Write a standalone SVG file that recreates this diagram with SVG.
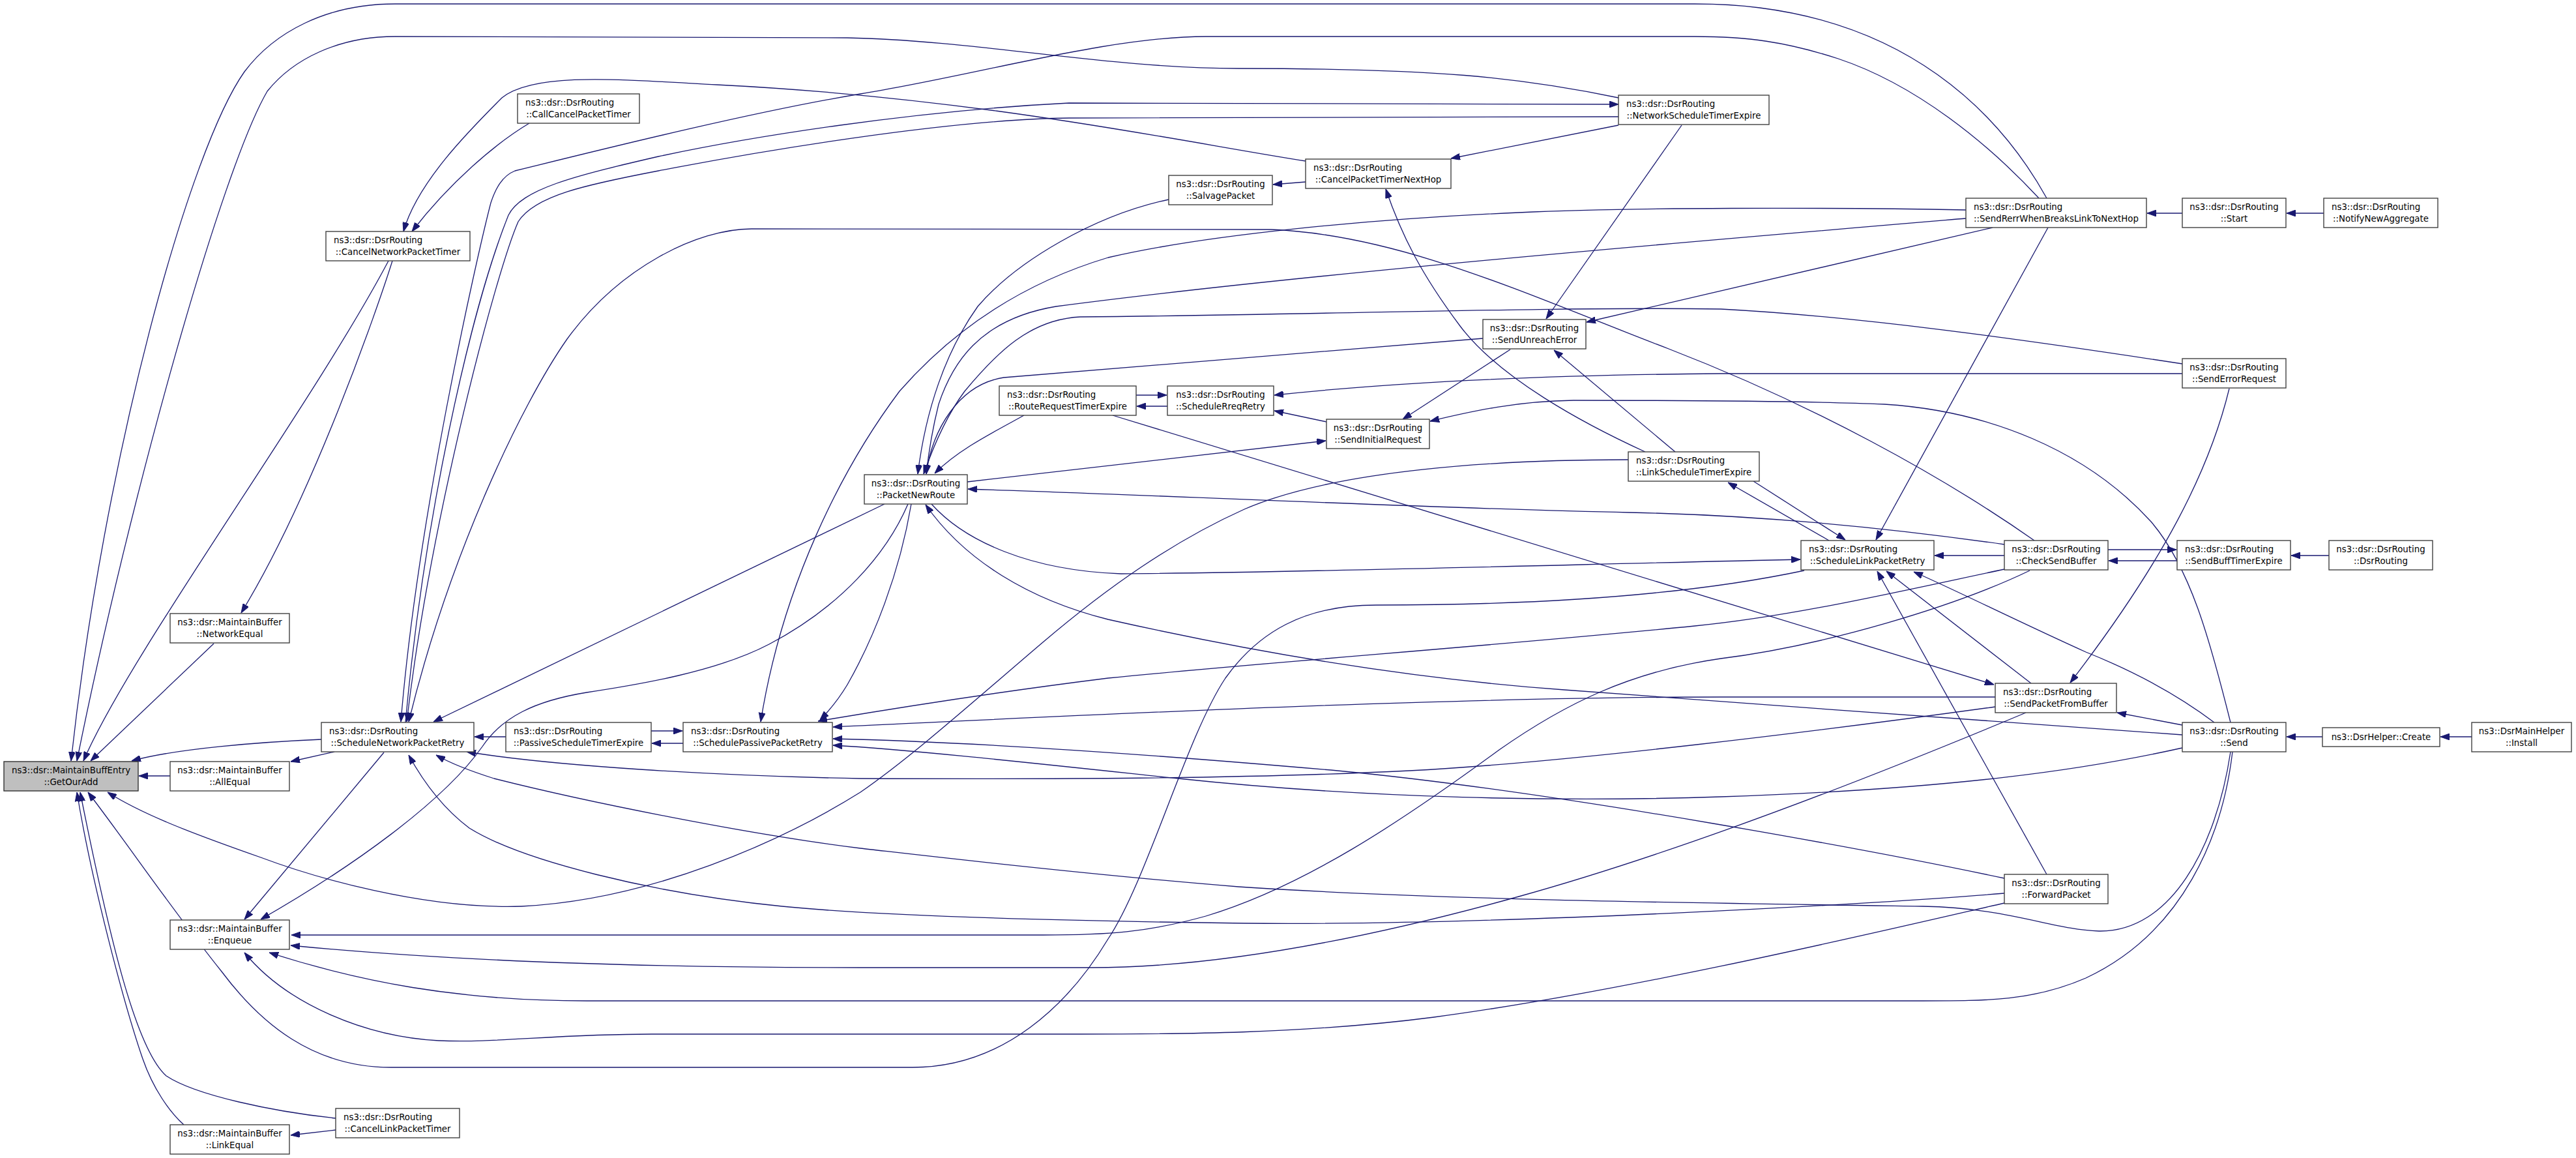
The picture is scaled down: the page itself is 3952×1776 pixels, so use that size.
<svg xmlns="http://www.w3.org/2000/svg" width="3952" height="1776" viewBox="0 0 3952 1776">
<defs>
<marker id="a" viewBox="0 0 14 10" refX="14" refY="5" markerWidth="14" markerHeight="10" markerUnits="userSpaceOnUse" orient="auto">
<path d="M0,0 L14,5 L0,10 z" fill="#191970" stroke="#191970" stroke-width="1"/>
</marker>
</defs>
<style>
.e path{fill:none;stroke:#191970;stroke-width:1.3;marker-end:url(#a)}
.n rect{fill:#ffffff;stroke:#404040;stroke-width:1.4}
.n.root rect{fill:#bfbfbf;stroke:#333333}
text{font-family:"DejaVu Sans","Liberation Sans",sans-serif;font-size:13.33px;fill:#000000}
.s{text-anchor:start}
.m{text-anchor:middle}
</style>
<rect x="0" y="0" width="3952" height="1776" fill="#ffffff"/>
<g id="edges" class="e">
<path d="M261,1190 L213,1190"/>
<path d="M493,1134 C400,1138 270,1148 202,1167"/>
<path d="M513,1153 L446,1168"/>
<path d="M328,987 L139,1167"/>
<path d="M596,400 C480,620 200,1000 128,1167"/>
<path d="M602,400 C580,470 480,760 370,940"/>
<path d="M3140,304 C3060,160 2920,40 2700,12 C2670,8 2640,6 2600,6 L606,6 C500,6 420,50 375,110 C290,230 160,700 109,1167"/>
<path d="M2483,150 C2330,118 2200,105 1900,105 C1700,105 1500,62 1300,58 L606,56 C520,56 450,90 410,140 C340,260 200,760 118,1167"/>
<path d="M3128,304 C3050,220 2940,130 2820,90 C2740,64 2680,56 2600,56 L1850,56 C1700,56 1500,115 1320,144 C1150,172 900,235 790,262 C770,270 760,290 753,311 C730,400 640,800 615,1107"/>
<path d="M622,1108 C650,800 720,480 780,330 C800,290 880,270 1010,240 C1150,210 1400,170 1640,158 L2483,160"/>
<path d="M2483,179 L1640,181 C1450,183 1150,235 1010,262 C900,283 820,300 795,340 C760,420 660,800 624,1107"/>
<path d="M3121,829 C2980,730 2780,620 2560,535 C2350,455 2150,360 1950,352 L1153,351 C1070,351 950,410 870,520 C800,620 690,850 627,1107"/>
<path d="M1357,773 L665,1107"/>
<path d="M589,1154 L375,1410"/>
<path d="M1393,773 C1360,850 1290,930 1180,988 C1100,1030 980,1050 900,1062 C820,1075 770,1100 740,1145 C680,1230 540,1330 400,1410"/>
<path d="M3114,875 C3000,930 2800,990 2640,1010 C2500,1030 2400,1080 2300,1150 C2150,1260 2000,1360 1850,1405 C1760,1430 1700,1434 1600,1434 L447,1434"/>
<path d="M3108,1093 C2900,1180 2600,1300 2330,1375 C2150,1425 1900,1484 1674,1484 L1320,1484 C1000,1484 700,1475 446,1450"/>
<path d="M3425,1153 C3410,1280 3350,1430 3200,1500 C3120,1535 3050,1535 2950,1535 L900,1535 C700,1535 550,1505 413,1461"/>
<path d="M3075,1385 C2900,1425 2500,1520 2200,1560 C2000,1586 1800,1586 1657,1586 L1000,1586 C850,1586 760,1600 673,1596 C560,1590 440,1540 375,1461"/>
<path d="M2498,705 C2300,705 2050,720 1909,781 C1800,830 1700,900 1600,985 C1500,1070 1400,1160 1320,1215 C1200,1290 1000,1380 800,1390 C650,1395 480,1345 400,1315 C300,1280 220,1250 165,1215"/>
<path d="M2768,875 C2650,900 2450,928 2111,928 C2000,928 1930,970 1880,1040 C1820,1130 1760,1350 1700,1440 C1640,1540 1540,1637 1400,1637 L600,1637 C480,1637 400,1570 340,1490 C260,1390 200,1300 135,1215"/>
<path d="M515,1715 C420,1705 300,1680 255,1650 C210,1610 170,1450 123,1215"/>
<path d="M282,1725 C260,1705 235,1670 219,1624 C190,1540 140,1350 118,1215"/>
<path d="M515,1733 L446,1741"/>
<path d="M776,1130 L728,1130"/>
<path d="M999,1121 L1047,1121"/>
<path d="M1048,1140 L1000,1140"/>
<path d="M3016,322 C2800,318 2500,318 2330,326 C2100,336 1850,360 1700,395 C1550,440 1450,520 1380,600 C1290,720 1200,900 1167,1107"/>
<path d="M1398,773 C1380,880 1340,980 1300,1050 C1285,1075 1270,1092 1258,1104"/>
<path d="M3075,873 C2900,910 2750,945 2600,960 C2300,990 1950,1015 1700,1040 C1500,1065 1350,1090 1255,1106"/>
<path d="M3061,1069 L2640,1069 C2200,1069 1600,1100 1278,1115"/>
<path d="M3075,1347 C2900,1310 2400,1215 2052,1182 C1800,1160 1500,1138 1278,1133"/>
<path d="M3348,1147 C3200,1180 3000,1210 2640,1222 C2400,1230 2100,1225 1808,1194 C1600,1172 1400,1150 1278,1143"/>
<path d="M3061,1084 C2800,1120 2400,1170 2162,1182 C1900,1195 1600,1195 1320,1194 C1100,1190 850,1175 716,1153"/>
<path d="M3422,1153 C3400,1300 3330,1430 3220,1428 C3150,1426 3080,1392 2950,1390 C2600,1385 2200,1380 1900,1360 C1650,1340 1400,1310 1320,1301 C1150,1280 900,1230 758,1194 C720,1182 690,1170 669,1158"/>
<path d="M3075,1370 C2900,1385 2300,1420 1909,1416 C1600,1412 1350,1405 1200,1390 C1000,1370 800,1320 720,1270 C680,1240 650,1200 627,1158"/>
<path d="M1793,306 C1680,330 1560,400 1500,470 C1450,540 1420,630 1408,727"/>
<path d="M2003,279 L1953,283"/>
<path d="M2483,192 L2226,243"/>
<path d="M2003,247 C1800,215 1500,150 1100,130 C950,122 820,110 770,150 C720,200 640,280 619,355"/>
<path d="M812,189 C760,220 690,280 632,355"/>
<path d="M2524,693 C2430,650 2300,580 2240,500 C2180,420 2150,360 2126,290"/>
<path d="M2580,192 L2372,489"/>
<path d="M3057,349 L2434,494"/>
<path d="M2275,519 L1540,579 C1470,590 1430,660 1421,727"/>
<path d="M2317,536 L2152,643"/>
<path d="M2570,693 L2384,537"/>
<path d="M2035,647 L1955,630"/>
<path d="M1743,606 L1790,606"/>
<path d="M1791,623 L1744,623"/>
<path d="M3348,573 L2640,573 C2400,575 2150,585 1955,606"/>
<path d="M3422,1108 C3390,980 3360,870 3300,800 C3200,690 3050,630 2891,620 C2750,614 2500,614 2414,614 C2330,615 2260,630 2194,646"/>
<path d="M1484,739 L2034,676"/>
<path d="M1571,637 C1520,665 1470,690 1434,726"/>
<path d="M1707,637 L3059,1050"/>
<path d="M2806,829 L2651,740"/>
<path d="M2690,738 L2831,828"/>
<path d="M3142,349 L2878,828"/>
<path d="M3075,852 L2968,852"/>
<path d="M3234,843 L3339,843"/>
<path d="M3340,860 L3235,860"/>
<path d="M3573,852 L3515,852"/>
<path d="M3348,327 L3294,327"/>
<path d="M3565,327 L3508,327"/>
<path d="M3420,596 C3390,720 3320,860 3176,1047"/>
<path d="M3348,1112 L3248,1093"/>
<path d="M3563,1130 L3508,1130"/>
<path d="M3792,1130 L3744,1130"/>
<path d="M3116,1048 L2894,876"/>
<path d="M3397,1108 C3360,1080 3300,1040 3200,1000 C3100,955 3000,905 2936,877"/>
<path d="M3140,1341 L2880,876"/>
<path d="M3016,335 C2600,370 2000,420 1620,470 C1500,490 1460,560 1440,620 C1430,660 1424,700 1421,727"/>
<path d="M3348,558 C3100,520 2850,485 2640,474 C2400,470 2000,483 1657,486 C1580,490 1530,540 1480,600 C1450,640 1430,690 1417,727"/>
<path d="M3075,835 C2900,810 2700,790 2500,786 C2200,780 1800,760 1485,750"/>
<path d="M1429,773 C1480,830 1580,875 1720,880 C2000,878 2400,866 2762,858"/>
<path d="M3348,1127 C3100,1110 2700,1080 2400,1058 C2150,1040 1900,995 1700,950 C1580,920 1480,860 1420,774"/>
</g>
<g id="n1" class="n root"><rect x="6" y="1168" width="206" height="45"/><text class="m" x="109" y="1186">ns3::dsr::MaintainBuffEntry</text><text class="m" x="109" y="1203.5">::GetOurAdd</text></g>
<g id="n2" class="n"><rect x="261" y="941" width="183" height="45"/><text class="m" x="352.5" y="959">ns3::dsr::MaintainBuffer</text><text class="m" x="352.5" y="976.5">::NetworkEqual</text></g>
<g id="n3" class="n"><rect x="261" y="1168" width="183" height="45"/><text class="m" x="352.5" y="1186">ns3::dsr::MaintainBuffer</text><text class="m" x="352.5" y="1203.5">::AllEqual</text></g>
<g id="n4" class="n"><rect x="261" y="1411" width="183" height="45"/><text class="m" x="352.5" y="1429">ns3::dsr::MaintainBuffer</text><text class="m" x="352.5" y="1446.5">::Enqueue</text></g>
<g id="n5" class="n"><rect x="261" y="1725" width="183" height="45"/><text class="m" x="352.5" y="1743">ns3::dsr::MaintainBuffer</text><text class="m" x="352.5" y="1760.5">::LinkEqual</text></g>
<g id="n6" class="n"><rect x="515" y="1700" width="190" height="45"/><text class="s" x="527" y="1718">ns3::dsr::DsrRouting</text><text class="m" x="610" y="1735.5">::CancelLinkPacketTimer</text></g>
<g id="n7" class="n"><rect x="500" y="355" width="221" height="45"/><text class="s" x="512" y="373">ns3::dsr::DsrRouting</text><text class="m" x="610.5" y="390.5">::CancelNetworkPacketTimer</text></g>
<g id="n8" class="n"><rect x="794" y="144" width="187" height="45"/><text class="s" x="806" y="162">ns3::dsr::DsrRouting</text><text class="m" x="887.5" y="179.5">::CallCancelPacketTimer</text></g>
<g id="n9" class="n"><rect x="493" y="1108" width="234" height="45"/><text class="s" x="505" y="1126">ns3::dsr::DsrRouting</text><text class="m" x="610" y="1143.5">::ScheduleNetworkPacketRetry</text></g>
<g id="n10" class="n"><rect x="776" y="1108" width="223" height="45"/><text class="s" x="788" y="1126">ns3::dsr::DsrRouting</text><text class="m" x="887.5" y="1143.5">::PassiveScheduleTimerExpire</text></g>
<g id="n11" class="n"><rect x="1048" y="1108" width="229" height="45"/><text class="s" x="1060" y="1126">ns3::dsr::DsrRouting</text><text class="m" x="1162.5" y="1143.5">::SchedulePassivePacketRetry</text></g>
<g id="n12" class="n"><rect x="1326" y="728" width="158" height="45"/><text class="m" x="1405" y="746">ns3::dsr::DsrRouting</text><text class="m" x="1405" y="763.5">::PacketNewRoute</text></g>
<g id="n13" class="n"><rect x="1793" y="269" width="159" height="45"/><text class="m" x="1872.5" y="287">ns3::dsr::DsrRouting</text><text class="m" x="1872.5" y="304.5">::SalvagePacket</text></g>
<g id="n14" class="n"><rect x="2003" y="244" width="223" height="45"/><text class="s" x="2015" y="262">ns3::dsr::DsrRouting</text><text class="m" x="2114.5" y="279.5">::CancelPacketTimerNextHop</text></g>
<g id="n15" class="n"><rect x="2483" y="146" width="231" height="45"/><text class="s" x="2495" y="164">ns3::dsr::DsrRouting</text><text class="m" x="2598.5" y="181.5">::NetworkScheduleTimerExpire</text></g>
<g id="n16" class="n"><rect x="1533" y="592" width="210" height="45"/><text class="s" x="1545" y="610">ns3::dsr::DsrRouting</text><text class="m" x="1638" y="627.5">::RouteRequestTimerExpire</text></g>
<g id="n17" class="n"><rect x="1791" y="592" width="163" height="45"/><text class="m" x="1872.5" y="610">ns3::dsr::DsrRouting</text><text class="m" x="1872.5" y="627.5">::ScheduleRreqRetry</text></g>
<g id="n18" class="n"><rect x="2035" y="643" width="158" height="45"/><text class="m" x="2114" y="661">ns3::dsr::DsrRouting</text><text class="m" x="2114" y="678.5">::SendInitialRequest</text></g>
<g id="n19" class="n"><rect x="2275" y="490" width="158" height="45"/><text class="m" x="2354" y="508">ns3::dsr::DsrRouting</text><text class="m" x="2354" y="525.5">::SendUnreachError</text></g>
<g id="n20" class="n"><rect x="2498" y="693" width="201" height="45"/><text class="s" x="2510" y="711">ns3::dsr::DsrRouting</text><text class="m" x="2598.5" y="728.5">::LinkScheduleTimerExpire</text></g>
<g id="n21" class="n"><rect x="2763" y="829" width="204" height="45"/><text class="s" x="2775" y="847">ns3::dsr::DsrRouting</text><text class="m" x="2865" y="864.5">::ScheduleLinkPacketRetry</text></g>
<g id="n22" class="n"><rect x="3016" y="304" width="277" height="45"/><text class="s" x="3028" y="322">ns3::dsr::DsrRouting</text><text class="m" x="3154.5" y="339.5">::SendRerrWhenBreaksLinkToNextHop</text></g>
<g id="n23" class="n"><rect x="3348" y="304" width="159" height="45"/><text class="m" x="3427.5" y="322">ns3::dsr::DsrRouting</text><text class="m" x="3427.5" y="339.5">::Start</text></g>
<g id="n24" class="n"><rect x="3565" y="304" width="175" height="45"/><text class="s" x="3577" y="322">ns3::dsr::DsrRouting</text><text class="m" x="3652.5" y="339.5">::NotifyNewAggregate</text></g>
<g id="n25" class="n"><rect x="3348" y="550" width="159" height="45"/><text class="m" x="3427.5" y="568">ns3::dsr::DsrRouting</text><text class="m" x="3427.5" y="585.5">::SendErrorRequest</text></g>
<g id="n26" class="n"><rect x="3075" y="829" width="159" height="45"/><text class="m" x="3154.5" y="847">ns3::dsr::DsrRouting</text><text class="m" x="3154.5" y="864.5">::CheckSendBuffer</text></g>
<g id="n27" class="n"><rect x="3340" y="829" width="174" height="45"/><text class="s" x="3352" y="847">ns3::dsr::DsrRouting</text><text class="m" x="3427" y="864.5">::SendBuffTimerExpire</text></g>
<g id="n28" class="n"><rect x="3573" y="829" width="159" height="45"/><text class="m" x="3652.5" y="847">ns3::dsr::DsrRouting</text><text class="m" x="3652.5" y="864.5">::DsrRouting</text></g>
<g id="n29" class="n"><rect x="3061" y="1048" width="186" height="45"/><text class="s" x="3073" y="1066">ns3::dsr::DsrRouting</text><text class="m" x="3154" y="1083.5">::SendPacketFromBuffer</text></g>
<g id="n30" class="n"><rect x="3348" y="1108" width="159" height="45"/><text class="m" x="3427.5" y="1126">ns3::dsr::DsrRouting</text><text class="m" x="3427.5" y="1143.5">::Send</text></g>
<g id="n31" class="n"><rect x="3563" y="1116" width="180" height="29"/><text class="m" x="3653" y="1135">ns3::DsrHelper::Create</text></g>
<g id="n32" class="n"><rect x="3792" y="1108" width="153" height="45"/><text class="m" x="3868.5" y="1126">ns3::DsrMainHelper</text><text class="m" x="3868.5" y="1143.5">::Install</text></g>
<g id="n33" class="n"><rect x="3075" y="1341" width="159" height="45"/><text class="m" x="3154.5" y="1359">ns3::dsr::DsrRouting</text><text class="m" x="3154.5" y="1376.5">::ForwardPacket</text></g>
</svg>
